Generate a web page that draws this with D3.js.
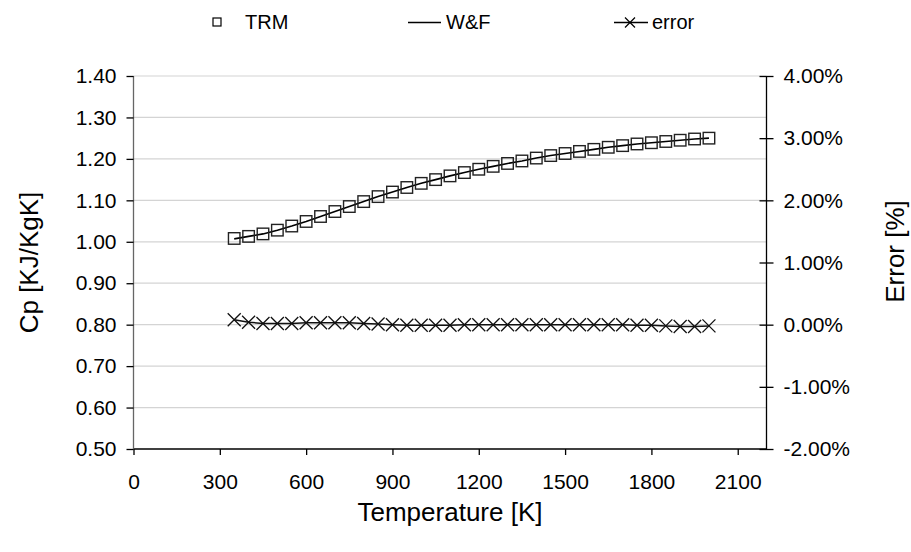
<!DOCTYPE html>
<html><head><meta charset="utf-8">
<script src="https://cdn.jsdelivr.net/npm/d3@7"></script>
<style>
body{margin:0;background:#fff;}
svg{display:block;font-family:"Liberation Sans",Arial,sans-serif;}
</style></head>
<body>
<svg id="chart" width="911" height="552"></svg>
<script>
const temperature = [350,400,450,500,550,600,650,700,750,800,850,900,950,1000,1050,1100,1150,1200,1250,1300,1350,1400,1450,1500,1550,1600,1650,1700,1750,1800,1850,1900,1950,2000];
const trm = [1.008,1.013,1.019,1.028,1.038,1.049,1.061,1.073,1.085,1.097,1.109,1.120,1.131,1.141,1.150,1.159,1.167,1.175,1.182,1.189,1.195,1.202,1.208,1.213,1.218,1.223,1.228,1.232,1.236,1.239,1.242,1.245,1.248,1.250];
const wf  = [1.007,1.013,1.019,1.028,1.038,1.049,1.061,1.073,1.085,1.097,1.109,1.120,1.131,1.141,1.150,1.159,1.167,1.175,1.182,1.189,1.195,1.202,1.208,1.213,1.218,1.223,1.228,1.232,1.236,1.239,1.242,1.245,1.248,1.250];
const errorPct = [0.08,0.04,0.02,0.02,0.02,0.03,0.03,0.03,0.03,0.02,0.01,0.00,-0.01,-0.01,-0.01,-0.01,0.00,0.00,0.00,0.00,0.00,0.00,0.00,0.00,0.00,0.00,0.00,0.00,-0.01,-0.01,-0.02,-0.03,-0.03,-0.02];
const xTicks = [0,300,600,900,1200,1500,1800,2100];
const yLeftTicks = [0.5,0.6,0.7,0.8,0.9,1.0,1.1,1.2,1.3,1.4];
const yRightTicks = [-2,-1,0,1,2,3,4];
const legendLabels = ["TRM","W&F","error"];
const axisTitles = {x:"Temperature [K]", yLeft:"Cp [KJ/KgK]", yRight:"Error [%]"};

const svg = d3.select("#chart");
const L=133.5, R=766.5, T=76, B=449;
const x = d3.scaleLinear().domain([0,2200]).range([L,R]);
const yL = d3.scaleLinear().domain([0.5,1.4]).range([B,T]);
const yR = d3.scaleLinear().domain([-2,4]).range([B,T]);
const hy = s => s.replace("\u2212","-");

// gridlines
svg.append("g").selectAll("line").data(yLeftTicks.slice(1)).join("line")
  .attr("x1",L).attr("x2",R).attr("y1",d=>yL(d)).attr("y2",d=>yL(d))
  .attr("stroke","#d4d4d4").attr("stroke-width",1.2);

// axes
const fs = "21px";
const gx = svg.append("g").attr("transform",`translate(0,${B})`)
  .call(d3.axisBottom(x).tickValues(xTicks).tickSize(6).tickPadding(19).tickFormat(d3.format("d")));
const gl = svg.append("g").attr("transform",`translate(${L},0)`)
  .call(d3.axisLeft(yL).tickValues(yLeftTicks).tickSize(7).tickPadding(10).tickFormat(d3.format(".2f")));
const gr = svg.append("g").attr("transform",`translate(${R},0)`)
  .call(d3.axisRight(yR).tickValues(yRightTicks).tickSize(7).tickPadding(10).tickFormat(d=>hy(d3.format(".2f")(d))+"%"));
[gx,gl,gr].forEach(g=>{
  g.select(".domain").attr("stroke","#000").attr("stroke-width",1.3);
  g.selectAll(".tick line").attr("stroke","#000").attr("stroke-width",1.3);
  g.selectAll(".tick text").attr("font-size",fs).attr("fill","#000").attr("font-family","Liberation Sans, Arial, sans-serif");
});
gl.select(".domain").attr("stroke","#666");
// right ticks cross axis
gr.selectAll(".tick line").attr("x1",-7).attr("x2",7);
gx.select(".domain").attr("d",`M${L},0H${R}`);
gl.select(".domain").attr("d",`M0,${T}V${B}`);
gr.select(".domain").attr("d",`M0,${T}V${B}`);

// axis titles
svg.append("text").attr("x",(L+R)/2).attr("y",521).attr("text-anchor","middle")
  .attr("font-size","26px").text(axisTitles.x);
svg.append("text").attr("transform",`translate(38,${(T+B)/2}) rotate(-90)`).attr("text-anchor","middle")
  .attr("font-size","26px").text(axisTitles.yLeft);
svg.append("text").attr("transform",`translate(904,${(T+B)/2-11}) rotate(-90)`).attr("text-anchor","middle")
  .attr("font-size","26px").text(axisTitles.yRight);

// W&F line
svg.append("path").datum(temperature.map((t,i)=>[t,wf[i]]))
  .attr("fill","none").attr("stroke","#000").attr("stroke-width",1.6)
  .attr("d",d3.line().x(d=>x(d[0])).y(d=>yL(d[1])));
// TRM squares
const sq=11.5;
svg.append("g").selectAll("rect").data(temperature.map((t,i)=>[t,trm[i]])).join("rect")
  .attr("x",d=>x(d[0])-sq/2).attr("y",d=>yL(d[1])-sq/2).attr("width",sq).attr("height",sq)
  .attr("fill","none").attr("stroke","#222").attr("stroke-width",1.4);

// error line + markers
const errData = temperature.map((t,i)=>[t,errorPct[i]]);
svg.append("path").datum(errData).attr("fill","none").attr("stroke","#111").attr("stroke-width",1.5)
  .attr("d",d3.line().x(d=>x(d[0])).y(d=>yR(d[1])));
const xm=6.5;
const xMark = (cx,cy)=>`M${cx-xm},${cy-xm}L${cx+xm},${cy+xm}M${cx-xm},${cy+xm}L${cx+xm},${cy-xm}`;
svg.append("g").selectAll("path").data(errData).join("path")
  .attr("d",d=>xMark(x(d[0]),yR(d[1]))).attr("stroke","#111").attr("stroke-width",1.3).attr("fill","none");

// legend
const lg = svg.append("g").attr("font-size","20px");
lg.append("rect").attr("x",213).attr("y",18).attr("width",8).attr("height",8).attr("fill","none").attr("stroke","#000").attr("stroke-width",1.2);
lg.append("text").attr("x",245).attr("y",29).text(legendLabels[0]);
lg.append("line").attr("x1",408).attr("x2",441).attr("y1",22.5).attr("y2",22.5).attr("stroke","#000").attr("stroke-width",1.3);
lg.append("text").attr("x",446).attr("y",29).text(legendLabels[1]);
lg.append("line").attr("x1",614).attr("x2",648).attr("y1",22.5).attr("y2",22.5).attr("stroke","#000").attr("stroke-width",1.3);
lg.append("path").attr("d",`M625,17.5L635,27.5M625,27.5L635,17.5`).attr("stroke","#000").attr("stroke-width",1.2);
lg.append("text").attr("x",652).attr("y",29).text(legendLabels[2]);
</script>
</body></html>
